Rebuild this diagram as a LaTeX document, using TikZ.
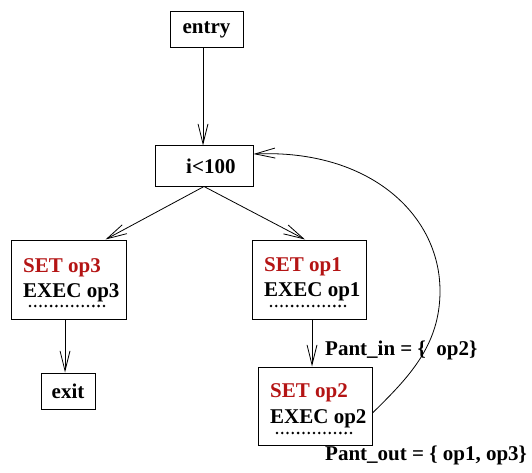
\documentclass[tikz,border=0pt]{standalone}
\usepackage{fontspec}
\setmainfont{Liberation Serif}
\usetikzlibrary{arrows.meta}
\definecolor{setred}{RGB}{180,20,20}
\begin{document}
\begin{tikzpicture}[x=1pt,y=-1pt,
  font=\fontsize{21}{25}\selectfont\bfseries,
  box/.style={draw, line width=1pt, inner sep=0pt},
  txt/.style={anchor=base west, inner sep=0pt},
  arr/.style={line width=0.8pt, -{Straight Barb[length=20pt,width=10pt,line width=0.8pt]}},
  dots/.style={line width=2.8pt, dash pattern=on 0pt off 5.28pt, line cap=round}]
\useasboundingbox (0,0) rectangle (532,473);
% boxes
\node[box, minimum width=73pt, minimum height=36pt] (entry) at (206.5,30) {entry};
\node[box, minimum width=98pt, minimum height=40pt] (cond) at (204,166) {};
\node[txt] (condtxt) at (186,173) {i<100};
\node[box, minimum width=115pt, minimum height=79pt] (b3) at (68.5,279.5) {};
\node[box, minimum width=114pt, minimum height=79pt] (b1) at (309,279.5) {};
\node[box, minimum width=54pt, minimum height=36pt] (exit) at (68,391) {exit};
\node[box, minimum width=114pt, minimum height=78pt] (b2) at (315,406) {};
\coordinate (loopmid) at (440,291);
% box texts
\node[txt, text=setred] (b3set) at (23,272) {SET op3};
\node[txt] (b3exec) at (23,297) {EXEC op3};
\draw[dots] (30,306) -- (104,306);
\node[txt, text=setred] (b1set) at (264,271) {SET op1};
\node[txt] (b1exec) at (264,296) {EXEC op1};
\draw[dots] (271,306) -- (345,306);
\node[txt, text=setred] (b2set) at (270,397) {SET op2};
\node[txt] (b2exec) at (270,423) {EXEC op2};
\draw[dots] (277,433) -- (351,433);
% labels
\node[txt] (pin) at (325,355) {Pant\_in = \{\ \ op2\}};
\node[txt] (pout) at (325,460) {Pant\_out = \{ op1, op3\}};
% connectors
\draw[arr] ([xshift=-3.5pt]entry.south) -- ([xshift=-1pt]cond.north);
\draw[arr] (cond.south) -- ([xshift=-21pt]b3.north east);
\draw[arr] (cond.south) -- ([xshift=-4pt]b1.north);
\draw[arr] ([xshift=-3.5pt]b3.south) -- ([xshift=-3pt]exit.north);
\draw[arr] ([xshift=3pt]b1.south) -- ([xshift=-3pt]b2.north);
\draw[arr] ([yshift=-7pt]b2.east) .. controls (408,378) and (440,346) .. (loopmid)
  .. controls (440,215) and (370,149) .. ([yshift=12pt]cond.east);
\end{tikzpicture}
\end{document}
